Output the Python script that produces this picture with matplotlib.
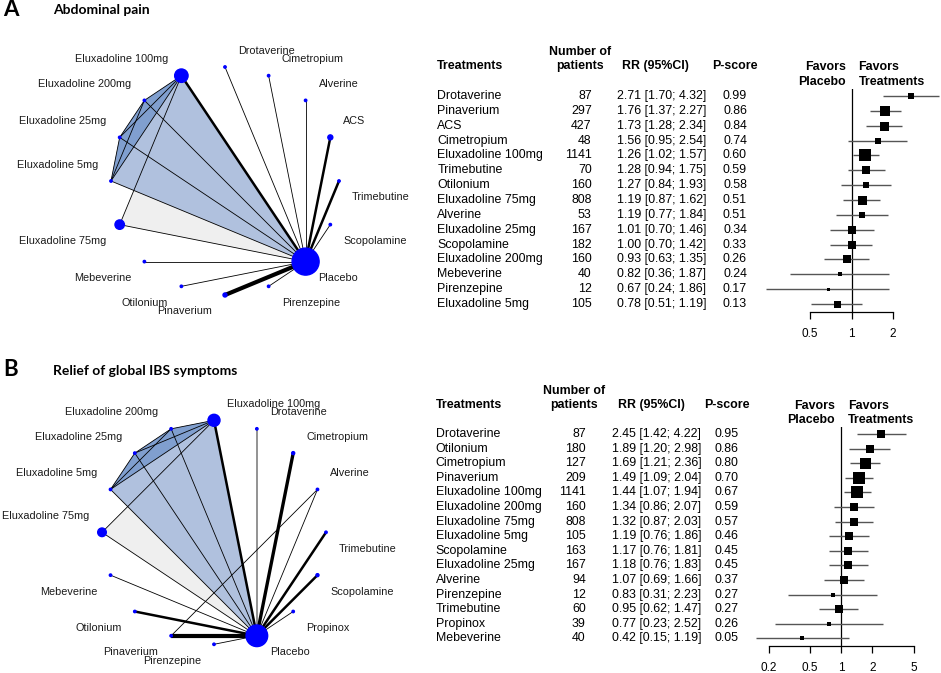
import matplotlib
matplotlib.use("Agg")
import matplotlib.pyplot as plt
import matplotlib.transforms as mtransforms
import numpy as np
from matplotlib.patches import Circle, Polygon

plt.rcParams["font.family"] = "Liberation Sans"

# ---------------- panel A data ----------------
a_nodes = ["Drotaverine", "Cimetropium", "Alverine", "ACS", "Trimebutine",
           "Scopolamine", "Placebo", "Pirenzepine", "Pinaverium", "Otilonium",
           "Mebeverine", "Eluxadoline 75mg", "Eluxadoline 5mg",
           "Eluxadoline 25mg", "Eluxadoline 200mg", "Eluxadoline 100mg"]
a_edges = [("Placebo", "Drotaverine", 1), ("Placebo", "Cimetropium", 1),
           ("Placebo", "Alverine", 1), ("Placebo", "ACS", 3),
           ("Placebo", "Trimebutine", 3), ("Placebo", "Scopolamine", 1),
           ("Placebo", "Pirenzepine", 1), ("Placebo", "Pinaverium", 5),
           ("Placebo", "Otilonium", 1), ("Placebo", "Mebeverine", 1),
           ("Placebo", "Eluxadoline 75mg", 1), ("Placebo", "Eluxadoline 5mg", 1),
           ("Placebo", "Eluxadoline 25mg", 1), ("Placebo", "Eluxadoline 200mg", 1),
           ("Placebo", "Eluxadoline 100mg", 3),
           ("Eluxadoline 100mg", "Eluxadoline 200mg", 1),
           ("Eluxadoline 100mg", "Eluxadoline 25mg", 1),
           ("Eluxadoline 100mg", "Eluxadoline 5mg", 1),
           ("Eluxadoline 100mg", "Eluxadoline 75mg", 1),
           ("Eluxadoline 200mg", "Eluxadoline 25mg", 1),
           ("Eluxadoline 200mg", "Eluxadoline 5mg", 1),
           ("Eluxadoline 25mg", "Eluxadoline 5mg", 1)]
a_node_r = {"Placebo": 13.5, "Eluxadoline 100mg": 6.7, "Eluxadoline 75mg": 4.7,
            "ACS": 2.5, "Pinaverium": 2.0}

a_treat = ["Drotaverine", "Pinaverium", "ACS", "Cimetropium", "Eluxadoline 100mg",
           "Trimebutine", "Otilonium", "Eluxadoline 75mg", "Alverine",
           "Eluxadoline 25mg", "Scopolamine", "Eluxadoline 200mg", "Mebeverine",
           "Pirenzepine", "Eluxadoline 5mg"]
a_n = [87, 297, 427, 48, 1141, 70, 160, 808, 53, 167, 182, 160, 40, 12, 105]
a_rr = [2.71, 1.76, 1.73, 1.56, 1.26, 1.28, 1.27, 1.19, 1.19, 1.01, 1.00, 0.93, 0.82, 0.67, 0.78]
a_lo = [1.70, 1.37, 1.28, 0.95, 1.02, 0.94, 0.84, 0.87, 0.77, 0.70, 0.70, 0.63, 0.36, 0.24, 0.51]
a_hi = [4.32, 2.27, 2.34, 2.54, 1.57, 1.75, 1.93, 1.62, 1.84, 1.46, 1.42, 1.35, 1.87, 1.86, 1.19]
a_p = [0.99, 0.86, 0.84, 0.74, 0.60, 0.59, 0.58, 0.51, 0.51, 0.34, 0.33, 0.26, 0.24, 0.17, 0.13]
a_w = [5.7, 10.7, 9.0, 5.3, 12.3, 8.7, 6.7, 9.0, 6.3, 8.0, 8.0, 7.3, 3.3, 3.0, 7.0]
a_ticks = [0.5, 1, 2]

# ---------------- panel B data ----------------
b_nodes = ["Eluxadoline 100mg", "Drotaverine", "Cimetropium", "Alverine",
           "Trimebutine", "Scopolamine", "Propinox", "Placebo", "Pirenzepine",
           "Pinaverium", "Otilonium", "Mebeverine", "Eluxadoline 75mg",
           "Eluxadoline 5mg", "Eluxadoline 25mg", "Eluxadoline 200mg"]
b_edges = [("Placebo", "Eluxadoline 100mg", 3), ("Placebo", "Drotaverine", 2),
           ("Placebo", "Cimetropium", 4), ("Placebo", "Alverine", 1),
           ("Placebo", "Trimebutine", 3), ("Placebo", "Scopolamine", 3),
           ("Placebo", "Propinox", 1), ("Placebo", "Pirenzepine", 1),
           ("Placebo", "Pinaverium", 5), ("Placebo", "Otilonium", 3),
           ("Placebo", "Mebeverine", 1), ("Placebo", "Eluxadoline 75mg", 1),
           ("Placebo", "Eluxadoline 5mg", 1), ("Placebo", "Eluxadoline 25mg", 1),
           ("Placebo", "Eluxadoline 200mg", 1), ("Alverine", "Pinaverium", 1),
           ("Eluxadoline 100mg", "Eluxadoline 200mg", 1),
           ("Eluxadoline 100mg", "Eluxadoline 25mg", 1),
           ("Eluxadoline 100mg", "Eluxadoline 5mg", 1),
           ("Eluxadoline 100mg", "Eluxadoline 75mg", 1),
           ("Eluxadoline 200mg", "Eluxadoline 25mg", 1),
           ("Eluxadoline 200mg", "Eluxadoline 5mg", 1),
           ("Eluxadoline 25mg", "Eluxadoline 5mg", 1)]
b_grey_edges = [("Placebo", "Drotaverine")]
b_node_r = {"Placebo": 10.8, "Eluxadoline 100mg": 6.0, "Eluxadoline 75mg": 4.3,
            "Cimetropium": 1.5, "Scopolamine": 1.5}

b_treat = ["Drotaverine", "Otilonium", "Cimetropium", "Pinaverium",
           "Eluxadoline 100mg", "Eluxadoline 200mg", "Eluxadoline 75mg",
           "Eluxadoline 5mg", "Scopolamine", "Eluxadoline 25mg", "Alverine",
           "Pirenzepine", "Trimebutine", "Propinox", "Mebeverine"]
b_n = [87, 180, 127, 209, 1141, 160, 808, 105, 163, 167, 94, 12, 60, 39, 40]
b_rr = [2.45, 1.89, 1.69, 1.49, 1.44, 1.34, 1.32, 1.19, 1.17, 1.18, 1.07, 0.83, 0.95, 0.77, 0.42]
b_lo = [1.42, 1.20, 1.21, 1.09, 1.07, 0.86, 0.87, 0.76, 0.76, 0.76, 0.69, 0.31, 0.62, 0.23, 0.15]
b_hi = [4.22, 2.98, 2.36, 2.04, 1.94, 2.07, 2.03, 1.86, 1.81, 1.83, 1.66, 2.23, 1.47, 2.52, 1.19]
b_p = [0.95, 0.86, 0.80, 0.70, 0.67, 0.59, 0.57, 0.46, 0.45, 0.45, 0.37, 0.27, 0.27, 0.26, 0.05]
b_w = [7.3, 8.0, 11.0, 11.7, 12.0, 8.3, 8.7, 8.0, 8.3, 8.3, 8.7, 4.0, 8.7, 3.7, 4.0]
b_ticks = [0.2, 0.5, 1, 2, 5]

elux_quad = ["Eluxadoline 100mg", "Eluxadoline 200mg", "Eluxadoline 25mg", "Eluxadoline 5mg"]
elux_five = elux_quad + ["Placebo"]
elux_tri = ["Eluxadoline 100mg", "Eluxadoline 75mg", "Placebo"]

W, H = 941, 673
fig = plt.figure(figsize=(W / 100, H / 100), dpi=100)
canvas = fig.add_axes([0, 0, 1, 1])
canvas.set_xlim(0, W)
canvas.set_ylim(H, 0)
canvas.axis("off")

LIGHT = "#b0c1de"
DARK = "#809fcf"
GREY = "#efefef"


def draw_network(ax, nodes, edges, node_r, cx, cy, rad, start, grey_edges=()):
    step = 360 / len(nodes)
    pos, angs = {}, {}
    for k, name in enumerate(nodes):
        ang = 180 - ((180 - (start - k * step)) % 360)
        t = np.deg2rad(ang)
        pos[name] = (cx + rad * np.cos(t), cy - rad * np.sin(t))
        angs[name] = ang
    for poly, col in [(elux_tri, GREY), (elux_five, LIGHT), (elux_quad, DARK)]:
        ax.add_patch(Polygon([pos[n] for n in poly], closed=True, fc=col, ec="none", zorder=1))
    for a, b, n in edges:
        col = "#808080" if (a, b) in grey_edges else "black"
        ax.plot([pos[a][0], pos[b][0]], [pos[a][1], pos[b][1]], color=col,
                lw=0.6 * n, solid_capstyle="butt", zorder=2)
    for name in nodes:
        x, y = pos[name]
        ax.add_patch(Circle((x, y), node_r.get(name, 1.2), color="#0000ff", zorder=3))
        ang = angs[name]
        right = -90 < ang <= 90
        above = 0 < ang <= 180
        ax.text(x + (13 if right else -13), y + (-16.5 if above else 16.5), name,
                ha="left" if right else "right", va="center", fontsize=7.8,
                color="#1a1a1a")


draw_network(canvas, a_nodes, a_edges, a_node_r, 225, 181, 114, 90)
draw_network(canvas, b_nodes, b_edges, b_node_r, 214, 532.3, 112, 90, b_grey_edges)

canvas.text(3, 10, "A", fontsize=16, fontweight="bold", family="Lato", va="center")
canvas.text(53, 10.5, "Abdominal pain", fontsize=10, fontweight="bold", family="Lato", va="center")
canvas.text(3, 369, "B", fontsize=16, fontweight="bold", family="Lato", va="center")
canvas.text(53, 371, "Relief of global IBS symptoms", fontsize=10, fontweight="bold",
            family="Lato", va="center")


def forest(treat, n, rr, lo, hi, p, w, ticks, xpx, ypx, cols):
    # xpx: (pixel of first tick, pixel of last tick); ypx: (top, bottom)
    x0, x1 = xpx
    y0, y1 = ypx
    ax = fig.add_axes([x0 / W, 1 - y1 / H, (x1 - x0) / W, (y1 - y0) / H])
    ax.set_xscale("log")
    ax.set_xlim(ticks[0], ticks[-1])
    rows = np.arange(len(treat))
    ax.set_ylim(len(treat) - 0.5, -0.5)
    ax.patch.set_alpha(0)
    for s in ["top", "right", "left"]:
        ax.spines[s].set_visible(False)
    ax.spines["bottom"].set_linewidth(0.9)
    ax.spines["bottom"].set_bounds(ticks[0], ticks[-1])
    ax.set_yticks([])
    ax.set_xticks(ticks)
    ax.set_xticklabels([f"{t:g}" for t in ticks])
    ax.xaxis.set_minor_locator(matplotlib.ticker.NullLocator())
    ax.tick_params(axis="x", length=5, width=0.9, pad=7, labelsize=8.5, color="black")
    ax.axvline(1, color="black", lw=0.9)
    ax.hlines(rows, lo, hi, color="#555555", lw=1.0, clip_on=False)
    for i in rows:
        ax.plot(rr[i], i, "s", ms=w[i] * 0.72, color="black", mec="black", mew=0,
                clip_on=False, zorder=3)

    tr = mtransforms.blended_transform_factory(canvas.transData, ax.transData)
    tx, nx, rx, px = cols
    hdr = dict(fontsize=8.9, fontweight="bold", va="center", transform=tr)
    canvas.text(tx, -2, "Treatments", ha="left", **hdr)
    canvas.text(nx - 12, -2.95, "Number of", ha="center", **hdr)
    canvas.text(nx - 12, -2, "patients", ha="center", **hdr)
    canvas.text(rx + 39, -2, "RR (95%CI)", ha="center", **hdr)
    canvas.text(px, -2, "P-score", ha="center", **hdr)
    body = dict(fontsize=8.9, va="center", transform=tr)
    for i in rows:
        canvas.text(tx, i, treat[i], ha="left", **body)
        canvas.text(nx, i, str(n[i]), ha="right", **body)
        canvas.text(rx, i, f"{rr[i]:.2f} [{lo[i]:.2f}; {hi[i]:.2f}]", ha="left", **body)
        canvas.text(px, i, f"{p[i]:.2f}", ha="center", **body)

    left = mtransforms.offset_copy(ax.transData, fig=fig, x=-6, y=0, units="dots")
    right = mtransforms.offset_copy(ax.transData, fig=fig, x=7, y=0, units="dots")
    fav = dict(fontsize=8.9, fontweight="bold", va="center")
    ax.text(1, -1.95, "Favors", ha="right", transform=left, **fav)
    ax.text(1, -0.95, "Placebo", ha="right", transform=left, **fav)
    ax.text(1, -1.95, "Favors", ha="left", transform=right, **fav)
    ax.text(1, -0.95, "Treatments", ha="left", transform=right, **fav)
    return ax


forest(a_treat, a_n, a_rr, a_lo, a_hi, a_p, a_w, a_ticks,
       (810, 893), (88.6, 311.5), (437.3, 591.7, 616.7, 735))
forest(b_treat, b_n, b_rr, b_lo, b_hi, b_p, b_w, b_ticks,
       (768.5, 913.5), (426.7, 645.6), (435.7, 585.7, 612.3, 726.7))

fig.savefig("out.png", dpi=100)
